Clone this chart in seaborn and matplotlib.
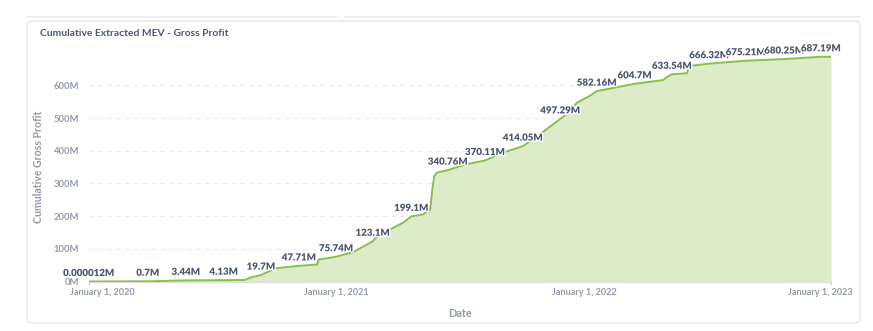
import numpy as np
import pandas as pd
import matplotlib
matplotlib.use("Agg")
import matplotlib.pyplot as plt
import matplotlib.patheffects as pe
from matplotlib.patches import FancyBboxPatch
from matplotlib.transforms import ScaledTranslation
import seaborn as sns

# ---- data (values in millions) ----
dates = [
    "2020-01-01", "2020-03-28", "2020-05-23", "2020-07-18", "2020-08-18", "2020-08-26",
    "2020-09-11", "2020-10-02", "2020-10-14", "2020-11-06", "2020-12-03", "2020-12-05",
    "2020-12-31", "2021-01-25", "2021-02-13", "2021-02-23", "2021-03-03", "2021-04-09",
    "2021-04-21", "2021-05-08", "2021-05-19", "2021-05-22", "2021-05-25", "2021-05-29",
    "2021-06-14", "2021-07-12", "2021-08-08", "2021-09-03", "2021-10-03", "2021-10-10",
    "2021-11-02", "2021-11-27", "2021-12-03", "2021-12-22", "2022-01-10", "2022-01-20",
    "2022-03-17", "2022-04-28", "2022-05-04", "2022-05-11", "2022-06-02", "2022-06-06",
    "2022-07-05", "2022-08-28", "2022-10-24", "2022-12-17", "2023-01-01",
]
profit_m = [
    0.000012, 0.7, 3.44, 4.13, 4.6, 12,
    19.7, 40, 43, 47.71, 52, 67,
    75.74, 90, 111, 123.1, 140, 180,
    199.1, 205, 220, 280, 322, 333,
    340.76, 359, 370.11, 394, 414.05, 424,
    458, 497.29, 506, 547, 568, 582.16,
    604.7, 616, 626, 633.54, 637, 659,
    666.32, 675.21, 680.25, 687.19, 687.19,
]
labeled = [
    1, 1, 1, 1, 0, 0,
    1, 0, 0, 1, 0, 0,
    1, 0, 0, 1, 0, 0,
    1, 0, 0, 0, 0, 0,
    1, 0, 1, 0, 1, 0,
    0, 1, 0, 0, 0, 1,
    1, 0, 0, 1, 0, 0,
    1, 1, 1, 1, 0,
]
x_ticks = ["2020-01-01", "2021-01-01", "2022-01-01", "2023-01-01"]
x_tick_labels = ["January 1, 2020", "January 1, 2021", "January 1, 2022", "January 1, 2023"]
y_ticks = [0, 100, 200, 300, 400, 500, 600]

df = pd.DataFrame({"Date": pd.to_datetime(dates), "Profit": profit_m, "Label": labeled})

# ---- style ----
sns.set_theme(style="white")
plt.rcParams["font.family"] = ["Lato", "DejaVu Sans"]

W, H = 873, 331
fig = plt.figure(figsize=(W / 100, H / 100), dpi=100)
fig.patch.set_facecolor("white")

def px(x, y):
    return x / W, 1 - y / H

# card background
card = FancyBboxPatch(px(27, 323), (860 - 27) / W, (323 - 21) / H,
                      boxstyle="round,pad=0,rounding_size=0.008",
                      transform=fig.transFigure, facecolor="white",
                      edgecolor="#E6E8EB", linewidth=1.0, zorder=-5)
fig.patches.append(card)
fig.add_artist(plt.Line2D([27 / W, 337 / W], [1 - 17 / H] * 2, color="#EEEEF0", lw=1.2,
                          transform=fig.transFigure, zorder=-5))
fig.add_artist(plt.Line2D([345 / W, 860 / W], [1 - 17 / H] * 2, color="#EEEEF0", lw=1.2,
                          transform=fig.transFigure, zorder=-5))

left, right = 89 / W, 831 / W
bottom, top = 1 - 281.5 / H, 1 - 52.6 / H
ax = fig.add_axes([left, bottom, right - left, top - bottom])
ax.set_zorder(2)
ax.set_facecolor("none")

line_color = "#88BF4D"
sns.lineplot(data=df, x="Date", y="Profit", ax=ax, color=line_color, linewidth=1.4, zorder=3)
ax.fill_between(df["Date"], df["Profit"], 0, color="#DCEBC8", linewidth=0, zorder=2)

ax.set_xlim(pd.Timestamp(x_ticks[0]), pd.Timestamp(x_ticks[-1]))
ax.set_ylim(0, 700)

# grid
for v in y_ticks[1:]:
    ax.axhline(v, color="#E9EBEE", lw=0.8, ls=(0, (4, 4)), zorder=1)

for s in ["top", "right", "left"]:
    ax.spines[s].set_visible(False)
ax.spines["bottom"].set_color("#DCDFE3")
ax.spines["bottom"].set_linewidth(0.9)

tick_color = "#949AAB"
ax.set_yticks(y_ticks)
ax.set_yticklabels([f"{v}M" for v in y_ticks], fontsize=6.8, color=tick_color, fontweight="bold")
ax.tick_params(axis="y", length=0, pad=7)

ax.set_xticks(pd.to_datetime(x_ticks))
ax.set_xticklabels(x_tick_labels, fontsize=6.6, color=tick_color, fontweight="bold")
ax.tick_params(axis="x", length=0, pad=4.5)
xl = ax.get_xticklabels()
xl[0].set_transform(xl[0].get_transform() + ScaledTranslation(13 / 100, 0, fig.dpi_scale_trans))
xl[-1].set_transform(xl[-1].get_transform() + ScaledTranslation(-11 / 100, 0, fig.dpi_scale_trans))

# end ticks
for xd in [x_ticks[0], x_ticks[-1]]:
    ax.plot([pd.Timestamp(xd)] * 2, [0, -8], color="#C8CCD2", lw=0.8, clip_on=False, zorder=4)

ax.set_xlabel("Date", fontsize=7.8, color=tick_color, fontweight="bold", labelpad=8)
ax.set_ylabel("Cumulative Gross Profit", fontsize=7.6, color=tick_color, fontweight="bold", labelpad=7)

# data labels
label_color = "#4C5773"
for d, v, l in zip(df["Date"], df["Profit"], df["Label"]):
    if l:
        txt = np.format_float_positional(v, trim="-") + "M"
        ax.annotate(txt, (d, v), xytext=(0, 2.5), textcoords="offset points",
                    ha="center", va="bottom", fontsize=7.0, fontweight="heavy",
                    color=label_color, zorder=6, clip_on=False,
                    path_effects=[pe.withStroke(linewidth=2.0, foreground="white")])

fig.text(40 / W, 1 - 34 / H, "Cumulative Extracted MEV - Gross Profit", fontsize=7.4,
         color="#4C5773", fontweight="bold", ha="left", va="center")

fig.savefig("out.png", dpi=100, facecolor="white")
